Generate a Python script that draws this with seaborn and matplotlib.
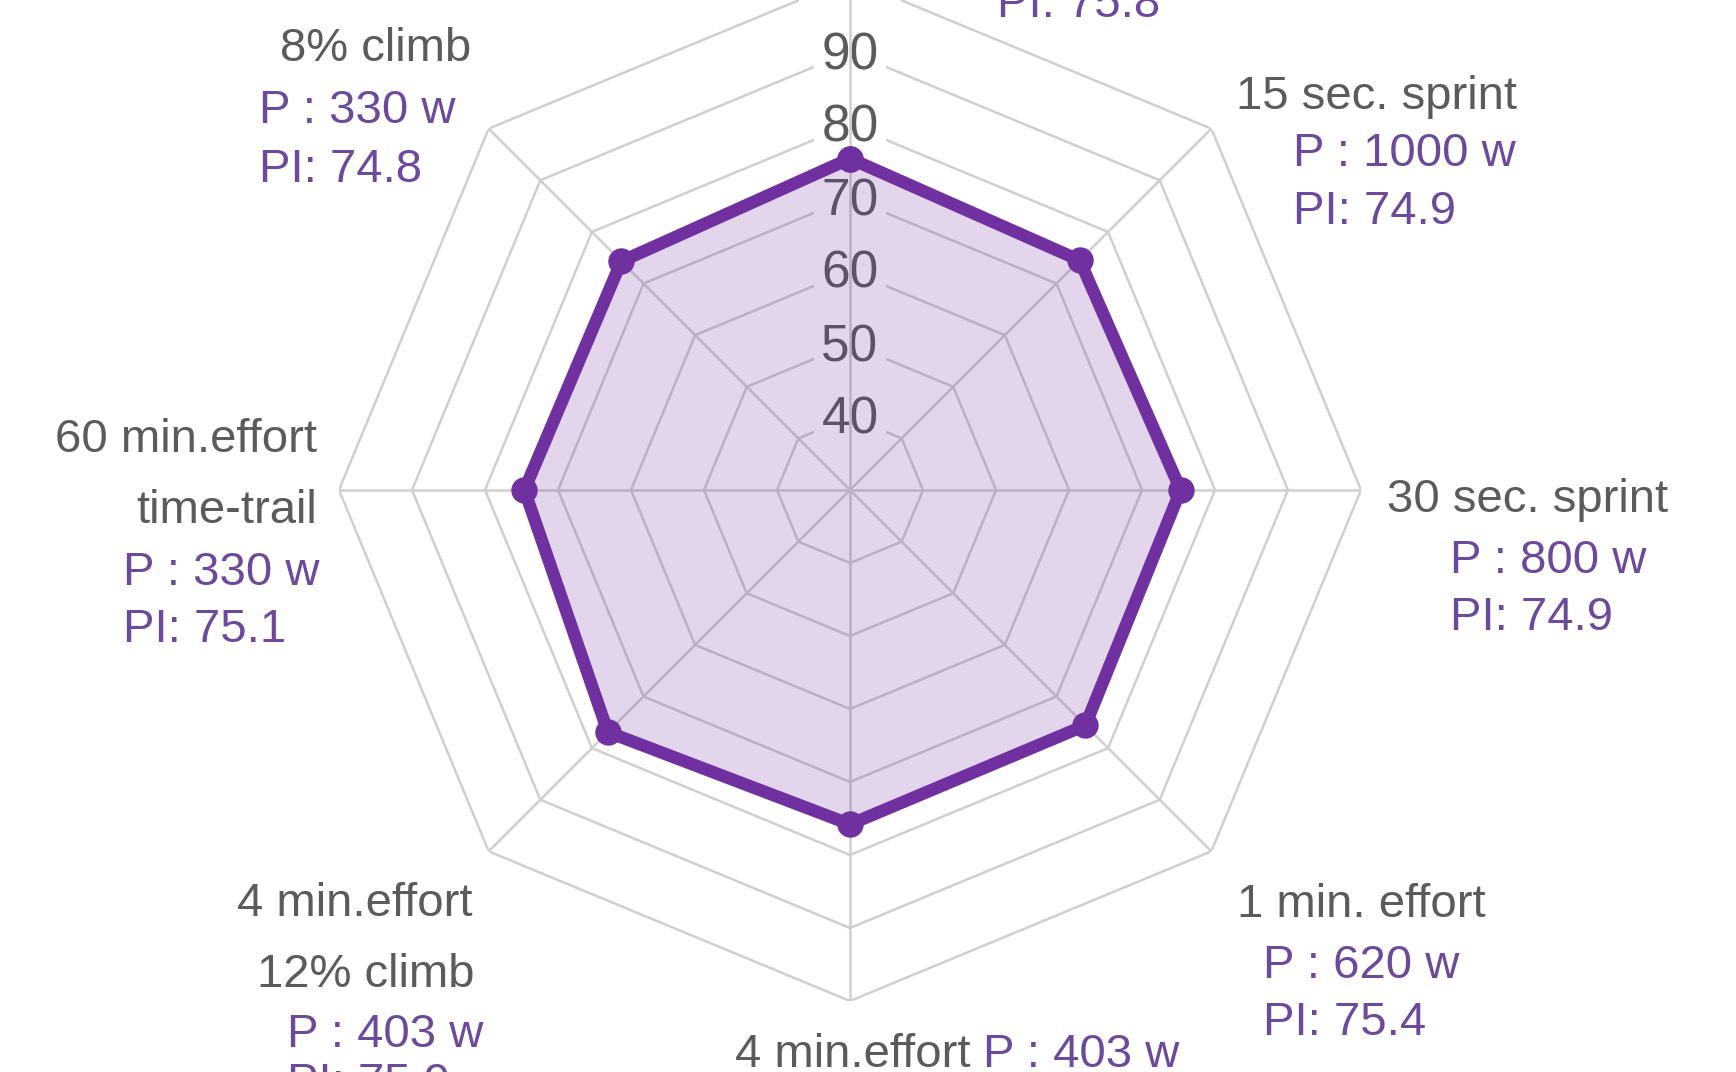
import numpy as np
import pandas as pd
import matplotlib
matplotlib.use("Agg")
import matplotlib.pyplot as plt
import seaborn as sns

# Kategorien im Uhrzeigersinn, oben beginnend (oberste Beschriftung ist abgeschnitten)
kategorien = ["20 min.effort", "15 sec. sprint", "30 sec. sprint", "1 min. effort",
              "4 min.effort", "4 min.effort\n12% climb", "60 min.effort\ntime-trail", "8% climb"]
werte = [75.4, 74.5, 75.3, 75.6, 75.8, 76.9, 74.6, 74.3]
leistung = ["", "1000", "800", "620", "403", "403", "330", "330"]
pi_werte = ["75.8", "74.9", "74.9", "75.4", "", "75.9", "75.1", "74.8"]
ringe = [40, 50, 60, 70, 80, 90, 100]

W, H = 1736, 1072
grau = "#5b5b5b"
lila = "#6b4a9b"
linie = "#7030a0"
gitter = "#cfcfcf"
fs = 34

sns.set_theme(style="white")
plt.rcParams['font.family'] = ['Liberation Sans', 'DejaVu Sans']

fig = plt.figure(figsize=(W / 100, H / 100), dpi=100)
fig.patch.set_facecolor("white")
# Mittelpunkt bei (850, 490) px, Radius 511 px
ax = fig.add_axes([339 / W, (H - 1001) / H, 1022 / W, 1022 / H], projection="polar")
ax.set_theta_zero_location("N")
ax.set_theta_direction(-1)

winkel = np.linspace(0, 2 * np.pi, len(kategorien), endpoint=False)
winkel_zu = np.append(winkel, 2 * np.pi)

# Achteck-Gitter und Speichen
for r in ringe:
    ax.plot(winkel_zu, [r] * len(winkel_zu), color=gitter, lw=1.8, zorder=1)
for w in winkel:
    ax.plot([w, w], [30, 100], color=gitter, lw=1.8, zorder=3)

# Skalenbeschriftung oben
for r in ringe:
    ax.annotate(str(r), (0, r), xytext=(0, -17), textcoords="offset pixels",
                ha="center", va="baseline", fontsize=37, color=grau, zorder=2,
                bbox=dict(facecolor="white", edgecolor="none", boxstyle="square,pad=0.15"))

# Daten
df = pd.DataFrame({"winkel": winkel_zu, "wert": werte + [werte[0]]})
ax.fill(df["winkel"], df["wert"], color=linie, alpha=0.2, lw=0, zorder=4)
sns.lineplot(data=df, x="winkel", y="wert", sort=False, estimator=None, color=linie, lw=9,
             marker="o", markersize=19, markeredgewidth=0, ax=ax, zorder=5)
ax.set_xlim(0, 2 * np.pi)
ax.set_ylim(30, 100)
ax.axis("off")

# Beschriftungen (x links, y Mitte in Pixel von oben)
texte = [
    ("8% climb", 280, 44, grau),
    (f"P : {leistung[7]} w", 259, 106, lila),
    (f"PI: {pi_werte[7]}", 259, 165, lila),
    ("15 sec. sprint", 1236, 92, grau),
    (f"P : {leistung[1]} w", 1293, 149, lila),
    (f"PI: {pi_werte[1]}", 1293, 207, lila),
    ("60 min.effort", 55, 435, grau),
    ("time-trail", 136, 506, grau),
    (f"P : {leistung[6]} w", 123, 568, lila),
    (f"PI: {pi_werte[6]}", 123, 625, lila),
    ("30 sec. sprint", 1387, 495, grau),
    (f"P : {leistung[2]} w", 1450, 556, lila),
    (f"PI: {pi_werte[2]}", 1450, 613, lila),
    ("4 min.effort", 237, 899, grau),
    ("12% climb", 257, 970, grau),
    (f"P : {leistung[5]} w", 287, 1030, lila),
    (f"PI: {pi_werte[5]}", 287, 1079, lila),
    ("4 min.effort", 735, 1050, grau),
    (f"P : {leistung[4]} w", 983, 1050, lila),
    ("1 min. effort", 1237, 900, grau),
    (f"P : {leistung[3]} w", 1263, 961, lila),
    (f"PI: {pi_werte[3]}", 1263, 1018, lila),
    (f"PI: {pi_werte[0]}", 997, 0, lila),
]
for t, x, y, c in texte:
    fig.text(x / W, 1 - (y + 17) / H, t, ha="left", va="baseline", fontsize=fs, color=c)

fig.savefig("out.png", dpi=100)
